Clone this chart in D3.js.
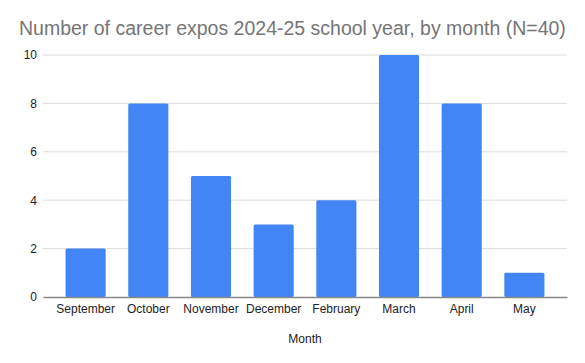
<!DOCTYPE html>
<html>
<head>
<meta charset="utf-8">
<script src="https://cdn.jsdelivr.net/npm/d3@7"></script>
<style>
  body { margin: 0; background: #fff; }
  text { font-family: Arial, "Liberation Sans", sans-serif; }
</style>
</head>
<body>
<div id="chart"></div>
<script>
const months = ["September", "October", "November", "December", "February", "March", "April", "May"];
const expos = [2, 8, 5, 3, 4, 10, 8, 1];
const yTicks = [0, 2, 4, 6, 8, 10];

const W = 585, H = 363;
const margin = { top: 55, right: 18, bottom: 66, left: 43 };
const width = W - margin.left - margin.right,
      height = H - margin.top - margin.bottom;

const svg = d3.select("#chart").append("svg")
    .attr("width", W)
    .attr("height", H);

svg.append("text")
    .attr("x", 19)
    .attr("y", 35)
    .attr("fill", "#757575")
    .style("font-size", "19.5px")
    .text("Number of career expos 2024-25 school year, by month (N=40)");

const g = svg.append("g")
    .attr("transform", "translate(" + margin.left + "," + margin.top + ")");

const x = d3.scaleBand()
    .domain(months)
    .range([0, width])
    .paddingInner(0.36)
    .paddingOuter(0.36);

const y = d3.scaleLinear()
    .domain([0, 10])
    .range([height, 0]);

// gridlines
g.append("g")
    .selectAll("line")
    .data(yTicks.filter(d => d !== 0))
    .enter()
    .append("line")
    .attr("x1", 0)
    .attr("x2", width)
    .attr("y1", d => y(d))
    .attr("y2", d => y(d))
    .attr("stroke", "#dcdcdc")
    .attr("stroke-width", 1);

// y labels
const yAxis = g.append("g")
    .call(d3.axisLeft(y).tickValues(yTicks).tickSize(0).tickPadding(6));
yAxis.select(".domain").remove();
yAxis.selectAll("text")
    .attr("fill", "#222")
    .style("font-size", "12px")
    .style("font-family", "Arial, 'Liberation Sans', sans-serif");

// bars
g.selectAll("rect.bar")
    .data(expos)
    .enter()
    .append("rect")
    .attr("class", "bar")
    .attr("x", (d, i) => x(months[i]))
    .attr("y", d => y(d))
    .attr("width", x.bandwidth())
    .attr("height", d => height - y(d))
    .attr("rx", 1.5)
    .attr("fill", "#4285f4");

// baseline + x labels
const xAxis = g.append("g")
    .attr("transform", "translate(0," + height + ")")
    .call(d3.axisBottom(x).tickSize(0).tickPadding(7));
xAxis.select(".domain")
    .attr("stroke", "#888")
    .attr("stroke-width", 1.5);
xAxis.selectAll("text")
    .attr("fill", "#222")
    .style("font-size", "12px")
    .style("font-family", "Arial, 'Liberation Sans', sans-serif");

svg.append("text")
    .attr("x", margin.left + width / 2)
    .attr("y", 343)
    .attr("text-anchor", "middle")
    .attr("fill", "#222")
    .style("font-size", "12px")
    .text("Month");
</script>
</body>
</html>
